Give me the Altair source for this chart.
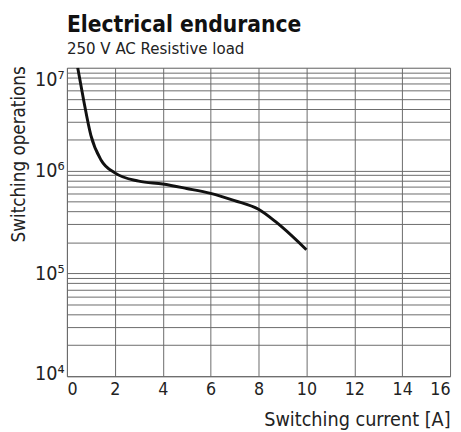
import altair as alt
import pandas as pd

current = [0.45, 0.7, 1.0, 1.43, 2.0, 3.0, 4.0, 5.0, 6.0, 7.0, 8.0, 8.7, 9.0, 10.0]
operations = [1.0e7, 4.8e6, 2.2e6, 1.26e6, 9.5e5, 7.9e5, 7.4e5, 6.7e5, 6.0e5, 5.1e5, 4.2e5, 3.2e5, 2.8e5, 1.7e5]

x_ticks = [0, 2, 4, 6, 8, 10, 12, 14, 16]
y_ticks = [m * 10 ** e for e in (4, 5, 6) for m in range(1, 10)] + [1e7]

df = pd.DataFrame({"current": current, "operations": operations})

FONT = "Liberation Sans Narrow, DejaVu Sans Condensed, sans-serif"
GRID = "#6a6a6a"

label_expr = (
    "datum.value == 10000 ? '10⁴' : datum.value == 100000 ? '10⁵' : "
    "datum.value == 1000000 ? '10⁶' : datum.value == 10000000 ? '10⁷' : ''"
)

chart = (
    alt.Chart(df)
    .mark_line(color="#111111", strokeWidth=3, interpolate="monotone", clip=True)
    .encode(
        x=alt.X(
            "current:Q",
            scale=alt.Scale(domain=[0, 16], nice=False, zero=False),
            axis=alt.Axis(
                values=x_ticks,
                title="Switching current [A]",
                titleFontSize=20,
                titleFontWeight="normal",
                titleFont=FONT,
                titleColor="#222222",
                titleAnchor="end",
                titleAlign="right",
                titleX=390,
                titleY=50,
                titleBaseline="alphabetic",
                labelFont=FONT,
                labelFontSize=18,
                labelColor="#222222",
                labelFlush=True,
                labelPadding=5,
                ticks=False,
                grid=True,
                gridColor=GRID,
                gridWidth=1,
                domainColor=GRID,
                labelAngle=0,
            ),
        ),
        y=alt.Y(
            "operations:Q",
            scale=alt.Scale(type="log", domain=[1e4, 1e7], nice=False),
            axis=alt.Axis(
                values=y_ticks,
                labelExpr=label_expr,
                labelOverlap=False,
                labelFlush=False,
                labelBaseline={
                    "condition": [
                        {"test": "datum.value == 10000000", "value": "top"},
                        {"test": "datum.value == 10000", "value": "alphabetic"},
                    ],
                    "value": "middle",
                },
                labelOffset={
                    "condition": [
                        {"test": "datum.value == 10000000", "value": 2},
                        {"test": "datum.value == 10000", "value": 3},
                    ],
                    "value": 0,
                },
                labelFont=FONT,
                labelFontSize=20,
                labelColor="#222222",
                labelPadding=3,
                ticks=False,
                grid=True,
                gridColor=GRID,
                gridWidth=1,
                domainColor=GRID,
                title="Switching operations",
                titleFont=FONT,
                titleFontSize=19,
                titleFontWeight="normal",
                titleColor="#222222",
                titleAngle=-90,
                titleAlign="right",
                titleX=-43,
                titleY=-2,
                titleBaseline="alphabetic",
            ),
        ),
    )
    .properties(
        width=390,
        height=314,
        autosize=alt.AutoSizeParams(type="none"),
        padding={"left": 60, "top": 57, "right": 3, "bottom": 55},
        title=alt.TitleParams(
            "Electrical endurance",
            subtitle="250 V AC Resistive load",
            anchor="start",
            frame="group",
            font=FONT,
            fontSize=23,
            fontWeight="bold",
            color="#111111",
            subtitleFont=FONT,
            subtitleFontSize=17,
            subtitleColor="#222222",
            subtitlePadding=4,
            offset=6,
        ),
    )
    .configure_view(stroke=GRID, strokeWidth=1)
    .configure(background="white")
)

chart.save("out.html", embed_options={"renderer": "svg", "actions": False})
